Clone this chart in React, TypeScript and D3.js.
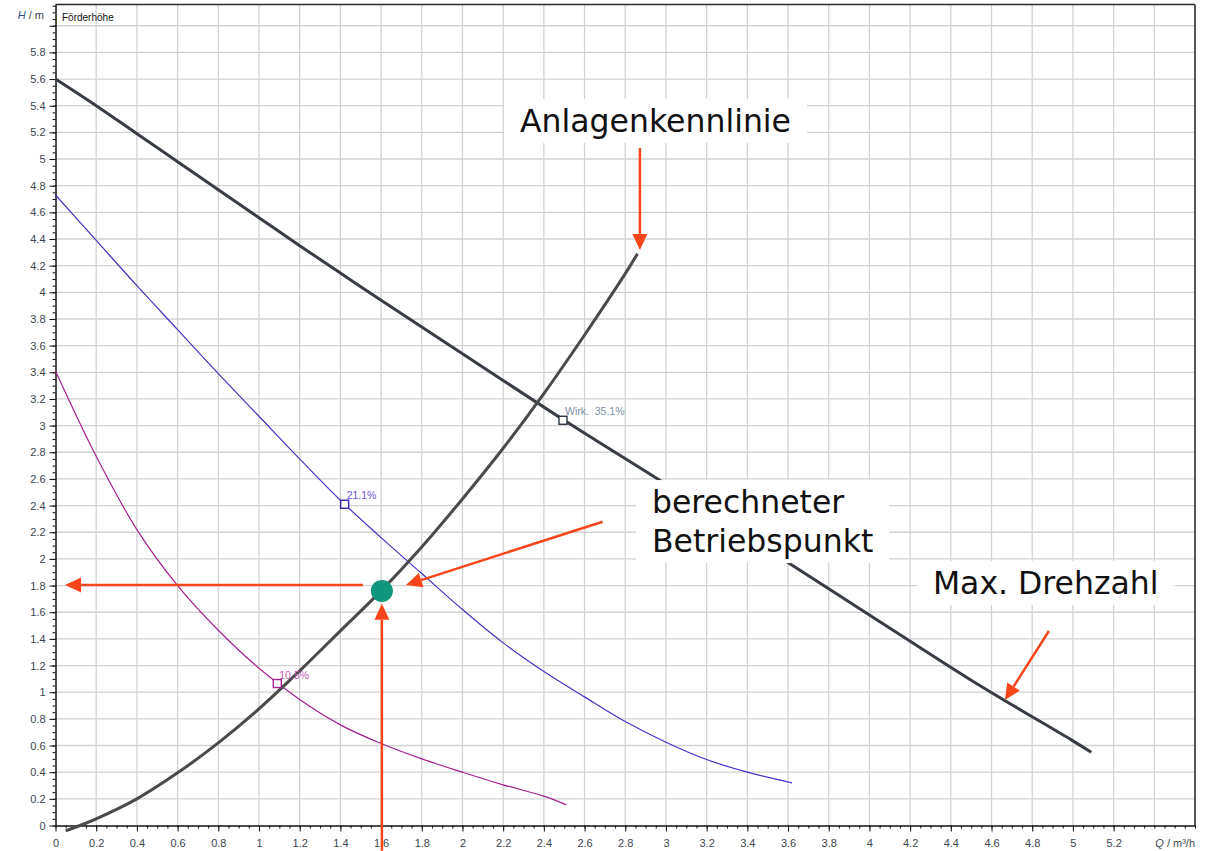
import React, { useRef, useEffect } from 'react';
import * as d3 from 'd3';

// pump curves (Q in m³/h, H in m)
const maxQ = [0, 0.2, 0.4, 0.6, 0.8, 1.0, 1.2, 1.4, 1.6, 1.8, 2.0, 2.5, 3.0, 3.5, 4.0, 4.5, 5.0, 5.09];
const maxH = [5.6, 5.4, 5.19, 4.98, 4.77, 4.56, 4.35, 4.145, 3.94, 3.74, 3.54, 3.04, 2.56, 2.07, 1.58, 1.09, 0.635, 0.55];

const eff21Q = [0, 0.2, 0.4, 0.6, 0.8, 1.0, 1.2, 1.4, 1.6, 1.8, 2.0, 2.2, 2.4, 2.6, 2.8, 3.0, 3.2, 3.4, 3.62];
const eff21H = [4.73, 4.39, 4.05, 3.72, 3.39, 3.07, 2.75, 2.44, 2.16, 1.89, 1.62, 1.37, 1.155, 0.965, 0.78, 0.625, 0.495, 0.4, 0.32];

const eff10Q = [0, 0.2, 0.4, 0.6, 0.8, 1.0, 1.2, 1.4, 1.6, 1.8, 2.0, 2.2, 2.4, 2.51];
const eff10H = [3.41, 2.77, 2.22, 1.8, 1.465, 1.18, 0.945, 0.755, 0.615, 0.5, 0.4, 0.305, 0.22, 0.155];

// Anlagenkennlinie
const sysQ = [0.05, 0.12, 0.2, 0.4, 0.6, 0.8, 1.0, 1.2, 1.4, 1.6, 1.8, 2.0, 2.2, 2.4, 2.6, 2.8, 2.86];
const sysH = [-0.04, 0, 0.05, 0.2, 0.395, 0.62, 0.875, 1.16, 1.46, 1.76, 2.09, 2.45, 2.83, 3.24, 3.68, 4.14, 4.29];

// efficiency markers
const markerLabels = ['Wirk.  35.1%', '21.1%', '10.5%'];
const markerQ = [2.494, 1.421, 1.09];
const markerH = [3.04, 2.41, 1.065];

// operating point
const opQ = 1.604;
const opH = 1.76;

// annotations (data units)
const noteLines = [['Anlagenkennlinie'], ['berechneter', 'Betriebspunkt'], ['Max. Drehzahl']];
const noteQ = [2.283, 2.931, 4.312];
const noteH = [5.203, 2.344, 1.737];

const arrowFrom = [[1.604, -0.19], [1.511, 1.804], [2.689, 2.279], [2.872, 5.083], [4.882, 1.459]];
const arrowTo = [[1.604, 1.664], [0.047, 1.804], [1.722, 1.804], [2.872, 4.318], [4.666, 0.941]];

const majorQ = d3.range(0, 27).map(i => i / 5);   // 0 .. 5.2
const majorH = d3.range(0, 30).map(i => i / 5);   // 0 .. 5.8

const App = () => {
    const ref = useRef(null);

    useEffect(() => {
        const svg = d3.select(ref.current);
        svg.selectAll('*').remove();

        const x = d3.scaleLinear().domain([0, 5.6]).range([55.5, 1195]);
        const y = d3.scaleLinear().domain([0, 6.16]).range([825.5, 4.4]);
        const fmt = d => String(Math.round(d * 10) / 10);
        const font = "'Liberation Sans', Arial, sans-serif";

        // grid
        const grid = svg.append('g').attr('stroke', '#d2d2d2').attr('stroke-width', 1.3);
        grid.selectAll('.gx').data(d3.range(1, 28).map(i => i / 5)).enter().append('line')
            .attr('x1', d => x(d)).attr('x2', d => x(d)).attr('y1', y(0)).attr('y2', y(6.16));
        grid.selectAll('.gy').data(d3.range(1, 31).map(i => i / 5)).enter().append('line')
            .attr('y1', d => y(d)).attr('y2', d => y(d)).attr('x1', x(0)).attr('x2', x(5.6));

        // frame top / right
        svg.append('line').attr('x1', x(0)).attr('x2', x(5.6)).attr('y1', y(6.16)).attr('y2', y(6.16))
            .attr('stroke', '#2a2a2a').attr('stroke-width', 1.5);
        svg.append('line').attr('x1', x(5.6)).attr('x2', x(5.6)).attr('y1', y(6.16)).attr('y2', y(0))
            .attr('stroke', '#555').attr('stroke-width', 2);

        // axes
        const xMinor = svg.append('g').attr('transform', `translate(0,${y(0)})`)
            .call(d3.axisBottom(x).tickValues(d3.range(0, 113).map(i => i / 20)).tickSize(3).tickFormat(() => ''));
        xMinor.select('.domain').remove();
        const xAxis = svg.append('g').attr('transform', `translate(0,${y(0)})`)
            .call(d3.axisBottom(x).tickValues(majorQ).tickSize(6).tickSizeOuter(0).tickPadding(8).tickFormat(fmt));
        const yMinor = svg.append('g').attr('transform', `translate(${x(0)},0)`)
            .call(d3.axisLeft(y).tickValues(d3.range(0, 124).map(i => i / 20)).tickSize(3).tickFormat(() => ''));
        yMinor.select('.domain').remove();
        const yAxis = svg.append('g').attr('transform', `translate(${x(0)},0)`)
            .call(d3.axisLeft(y).tickValues([...majorH, 6]).tickSize(6).tickSizeOuter(0).tickPadding(4)
                .tickFormat(d => (d >= 6 ? '' : fmt(d))));
        [xAxis, yAxis].forEach(a => {
            a.select('.domain').attr('stroke', '#111').attr('stroke-width', 1.5);
            a.selectAll('text').attr('font-family', font).attr('font-size', 11).attr('fill', '#3c4650');
        });
        svg.selectAll('.tick line').attr('stroke', '#111');

        const qLabel = svg.append('text').attr('x', 1195).attr('y', 847).attr('text-anchor', 'end')
            .attr('font-family', font).attr('font-size', 11).attr('fill', '#3c4650');
        qLabel.append('tspan').attr('font-style', 'italic').text('Q');
        qLabel.append('tspan').text(' / m³/h');
        const hLabel = svg.append('text').attr('x', 44).attr('y', 19).attr('text-anchor', 'end')
            .attr('font-family', font).attr('font-size', 11).attr('fill', '#3c4650');
        hLabel.append('tspan').attr('font-style', 'italic').attr('fill', '#2a4f8a').text('H');
        hLabel.append('tspan').text(' / m');
        svg.append('text').attr('x', 62).attr('y', 21).attr('font-family', font).attr('font-size', 10)
            .attr('fill', '#111').text('Förderhöhe');

        // curves
        const line = d3.line().x(d => x(d[0])).y(d => y(d[1])).curve(d3.curveCatmullRom.alpha(0.5));
        const curves = [
            { q: eff10Q, h: eff10H, color: '#a2218e', w: 1.2 },
            { q: eff21Q, h: eff21H, color: '#4a30c4', w: 1.2 },
            { q: maxQ, h: maxH, color: '#383d45', w: 3 },
            { q: sysQ, h: sysH, color: '#4a4a4a', w: 3 },
        ];
        curves.forEach(c => {
            svg.append('path').datum(c.q.map((q, i) => [q, c.h[i]]))
                .attr('d', line).attr('fill', 'none').attr('stroke', c.color)
                .attr('stroke-width', c.w).attr('stroke-linejoin', 'round');
        });

        // efficiency markers
        const markerColors = ['#2f3845', '#3a22b0', '#a2218e'];
        const labelColors = ['#7d90a8', '#6a4fd8', '#c658b6'];
        markerQ.forEach((q, i) => {
            svg.append('rect').attr('x', x(q) - 4).attr('y', y(markerH[i]) - 4).attr('width', 8).attr('height', 8)
                .attr('fill', '#fff').attr('stroke', markerColors[i]).attr('stroke-width', 1.4);
            svg.append('text').attr('x', x(q) + 2).attr('y', y(markerH[i]) - 5)
                .attr('font-family', font).attr('font-size', 10.5).attr('fill', labelColors[i])
                .style('white-space', 'pre').text(markerLabels[i]);
        });

        // operating point
        svg.append('circle').attr('cx', x(opQ)).attr('cy', y(opH)).attr('r', 11).attr('fill', '#10967a');

        // annotation boxes
        noteLines.forEach((lines, i) => {
            const g = svg.append('g');
            const rect = g.append('rect').attr('fill', '#fff');
            const t = g.append('text').attr('font-family', "'DejaVu Sans', Verdana, sans-serif")
                .attr('font-size', 31.5).attr('fill', '#111');
            lines.forEach((s, k) => {
                t.append('tspan').attr('x', x(noteQ[i])).attr('y', y(noteH[i]) + k * 39).text(s);
            });
            const bb = t.node().getBBox();
            rect.attr('x', bb.x - 16).attr('y', bb.y - 4).attr('width', bb.width + 32).attr('height', bb.height + 8);
        });

        // arrows
        const red = '#f8461a';
        arrowFrom.forEach((a, i) => {
            const x0 = x(a[0]), y0 = y(a[1]);
            const x1 = x(arrowTo[i][0]), y1 = y(arrowTo[i][1]);
            const len = Math.hypot(x1 - x0, y1 - y0);
            const ux = (x1 - x0) / len, uy = (y1 - y0) / len;
            const hl = 16, hw = 7.5;
            const bx = x1 - ux * hl, by = y1 - uy * hl;
            svg.append('line').attr('x1', x0).attr('y1', y0).attr('x2', bx).attr('y2', by)
                .attr('stroke', red).attr('stroke-width', 2.5);
            svg.append('path')
                .attr('d', `M${x1},${y1}L${bx - uy * hw},${by + ux * hw}L${bx + uy * hw},${by - ux * hw}Z`)
                .attr('fill', red);
        });
    }, []);

    return (
        <svg ref={ref} width={1207} height={851}
            style={{ position: 'absolute', left: 0, top: 0, background: '#fff' }} />
    );
};

export default App;
